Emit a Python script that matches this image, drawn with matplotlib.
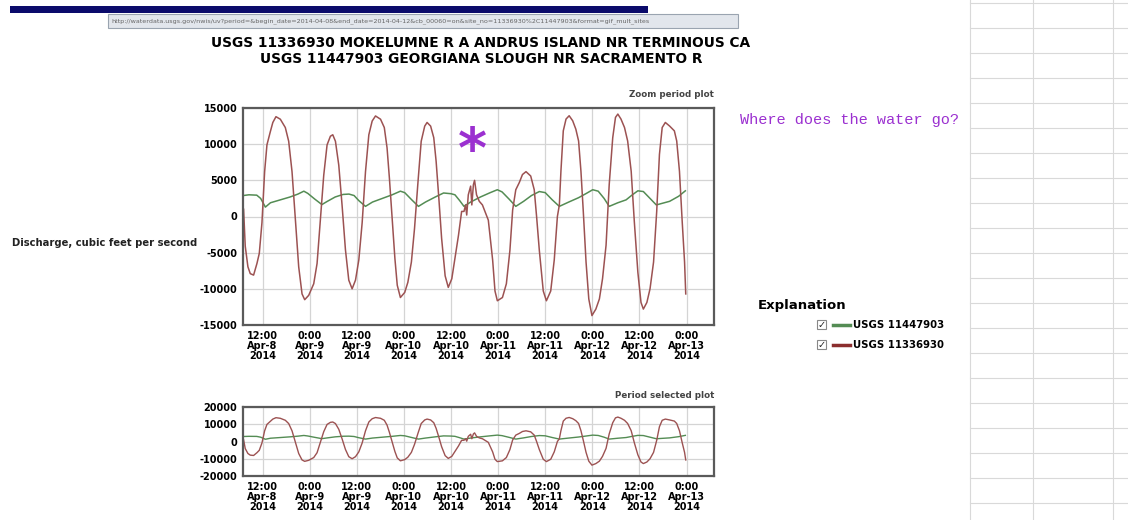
import matplotlib
matplotlib.use("Agg")
import matplotlib.pyplot as plt
from matplotlib.patches import Rectangle
from matplotlib.lines import Line2D

# ---------------- data (hours after 2014-04-08 00:00, discharge cfs) ----------------
red_hours = [7.15, 7.57, 8.25, 8.85, 9.70, 10.55, 11.15, 11.83, 12.51, 13.10, 13.95, 14.6,
             15.40, 16.51, 17.78, 18.64, 19.49, 20.34, 21.19, 22.04, 22.72, 23.74, 25.02,
             25.87, 26.72, 27.57, 28.42, 29.27, 29.87, 30.55, 31.40, 32.25, 33.10, 33.95,
             34.80, 35.66, 36.51, 37.36, 38.21, 39.06, 39.91, 40.76, 42.04, 43.0, 43.7, 44.3,
             45.0, 45.7, 46.3, 47.1, 48.2, 49.0, 49.9, 50.7, 51.6, 52.4, 53.3, 53.9, 54.8,
             55.6, 56.2, 56.9, 57.6, 58.5, 59.3, 60.2, 61.0, 61.9, 62.7, 63.3, 63.7, 64.0,
             64.4, 65.0, 65.3, 65.7, 66.0, 66.5, 67.2, 68.0, 69.0, 69.5, 69.9, 70.6, 71.2,
             71.8, 73.1, 74.1, 75.0, 75.7, 76.5, 77.4, 78.2, 79.1, 80.3, 81.2, 81.8, 82.5,
             83.5, 84.3, 85.4, 86.3, 87.1, 87.6, 88.0, 88.6, 89.3, 90.1, 91.0, 91.8, 92.5,
             93.1, 93.7, 94.4, 95.1, 95.9, 96.9, 97.8, 98.6, 99.5, 100.3, 101.2, 101.9, 102.5,
             103.3, 104.2, 105.0, 105.9, 106.7, 107.6, 108.4, 109.0, 109.9, 110.7, 111.6,
             112.4, 113.1, 113.8, 114.6, 115.7, 116.9, 117.5, 118.2, 118.9, 119.5, 119.8]
red_cfs = [1000, -4100, -6950, -7900, -8100, -6500, -5100, -850, 6200, 9900, 11700, 13000,
           13800, 13450, 12300, 10400, 6200, -400, -6950, -10700, -11500, -10900, -9300,
           -6500, -400, 5700, 9900, 11100, 11300, 10400, 7100, 1500, -4600, -8800, -10000,
           -8800, -6000, -850, 6200, 11300, 13200, 13900, 13450, 12300, 9500, 5300, -250,
           -5800, -9500, -11200, -10500, -9100, -6300, -1650, 4900, 10400, 12500, 13000, 12500,
           10900, 7650, 2500, -3000, -8200, -9800, -8600, -5800, -2600, 700, 700, 1600, 200,
           3000, 4200, 1600, 4400, 5000, 3000, 2100, 1600, 200, -500, -2500, -6000, -10300,
           -11650, -11200, -9300, -4700, 900, 3700, 4700, 5800, 6200, 5600, 3700, 0, -4700,
           -10300, -11650, -10300, -6000, 0, 1600, 6260, 11840, 13470, 13930, 13230, 12070,
           10440, 6260, 680, -6300, -11400, -13700, -12800, -11400, -8600, -3970, 4400, 10900,
           13700, 14160, 13470, 12300, 10440, 6260, -720, -7700, -11880, -12800, -11880,
           -10000, -6300, 680, 8580, 12300, 13000, 12500, 11840, 10440, 6260, -720, -6300,
           -10700]

green_hours = [7.1, 8.5, 10.5, 11.5, 12.7, 14.0, 16.5, 19.0, 21.0, 22.5, 23.5, 25.3, 27.1,
               28.5, 30.5, 32.5, 34.0, 35.3, 36.5, 38.2, 40.0, 42.5, 45.0, 47.1, 48.2, 50.0,
               51.7, 53.5, 56.0, 58.1, 60.0, 61.0, 62.2, 63.3, 65.0, 67.5, 70.0, 71.8, 73.0,
               74.8, 76.5, 78.5, 80.5, 82.5, 84.0, 85.8, 87.6, 90.0, 92.5, 94.5, 96.1, 97.5,
               99.0, 100.3, 102.5, 104.6, 106.2, 107.6, 109.0, 110.7, 112.3, 114.0, 115.7,
               118.0, 119.7]
green_cfs = [2900, 3000, 2950, 2500, 1300, 1900, 2300, 2700, 3100, 3500, 3200, 2400, 1650,
             2100, 2700, 3050, 3100, 2900, 2200, 1400, 2000, 2500, 3000, 3500, 3300, 2300,
             1400, 2000, 2700, 3250, 3150, 3000, 2200, 1400, 2000, 2700, 3300, 3700, 3400,
             2400, 1400, 2100, 2900, 3450, 3300, 2300, 1400, 2000, 2600, 3200, 3700, 3500,
             2500, 1400, 1900, 2300, 3000, 3550, 3450, 2500, 1600, 1850, 2100, 2800, 3550]

tick_hours = [12, 24, 36, 48, 60, 72, 84, 96, 108, 120]
tick_labels = ["12:00\nApr-8\n2014", "0:00\nApr-9\n2014", "12:00\nApr-9\n2014",
               "0:00\nApr-10\n2014", "12:00\nApr-10\n2014", "0:00\nApr-11\n2014",
               "12:00\nApr-11\n2014", "0:00\nApr-12\n2014", "12:00\nApr-12\n2014",
               "0:00\nApr-13\n2014"]
main_yticks = [-15000, -10000, -5000, 0, 5000, 10000, 15000]
sel_yticks = [-20000, -10000, 0, 10000, 20000]

title_lines = ["USGS 11336930 MOKELUMNE R A ANDRUS ISLAND NR TERMINOUS CA",
               "USGS 11447903 GEORGIANA SLOUGH NR SACRAMENTO R"]
green_name = "USGS 11447903"
red_name = "USGS 11336930"
url_text = ("http://waterdata.usgs.gov/nwis/uv?period=&begin_date=2014-04-08&end_date=2014-04-12"
            "&cb_00060=on&site_no=11336930%2C11447903&format=gif_mult_sites")

# ---------------- styling ----------------
W, H = 1128, 520
RED = "#9c5252"
GREEN = "#548c54"
FRAME = "#5a5a5a"
GRID = "#d4d4d4"
PURPLE = "#9b30d0"

plt.rcParams['font.family'] = ['DejaVu Sans']
fig = plt.figure(figsize=(W / 100, H / 100), dpi=100)
fig.patch.set_facecolor("white")


def fx(x):
    return x / W


def fy(y):
    return 1 - y / H


def rect_px(x0, y0, x1, y1, **kw):
    fig.add_artist(Rectangle((fx(x0), fy(y1)), fx(x1) - fx(x0), fy(y0) - fy(y1),
                             transform=fig.transFigure, **kw))


def line_px(xs, ys, **kw):
    fig.add_artist(Line2D([fx(v) for v in xs], [fy(v) for v in ys],
                          transform=fig.transFigure, **kw))


# spreadsheet grid on the right
for yy in range(3, 520, 25):
    line_px([970, 1128], [yy, yy], color="#d9d9d9", lw=0.8, zorder=-3)
for xx in [970, 1033, 1113]:
    line_px([xx, xx], [0, 520], color="#d9d9d9", lw=0.8, zorder=-3)

# navy bar and URL bar
rect_px(10, 6, 648, 13, facecolor="#0b0b6b", edgecolor="none")
rect_px(108, 14, 738, 28, facecolor="#e2e6ec", edgecolor="#9aa4b0", lw=0.8)
fig.text(fx(111), fy(21), url_text, fontsize=4.6, color="#666666", va="center", ha="left")

# titles
fig.text(fx(481), fy(43), title_lines[0], fontsize=9.9, fontweight="bold", ha="center", va="center")
fig.text(fx(481), fy(59), title_lines[1], fontsize=9.9, fontweight="bold", ha="center", va="center")


def style_axes(ax, yticks, ylim):
    ax.set_xlim(7.0, 127.0)
    ax.set_ylim(*ylim)
    ax.set_xticks(tick_hours)
    ax.set_xticklabels(tick_labels, fontsize=7, fontweight="bold", linespacing=1.05)
    ax.set_yticks(yticks)
    ax.set_yticklabels([str(v) for v in yticks], fontsize=7, fontweight="bold")
    ax.tick_params(length=0, pad=4)
    ax.grid(True, color=GRID, lw=0.9)
    ax.set_axisbelow(True)
    for s in ax.spines.values():
        s.set_color(FRAME)
        s.set_linewidth(1.6)


# main zoom plot
ax = fig.add_axes([fx(243), fy(325), fx(714) - fx(243), fy(108) - fy(325)])
ax.plot(green_hours, green_cfs, color=GREEN, lw=1.1, solid_joinstyle="round")
ax.plot(red_hours, red_cfs, color=RED, lw=1.1, solid_joinstyle="round")
style_axes(ax, main_yticks, (-15000, 15000))
ax.text(1.0, 1.04, "Zoom period plot", transform=ax.transAxes, ha="right", va="bottom",
        fontsize=6.3, fontweight="bold", color="#444444")
ax.text(65.4, 8900, "*", fontsize=40, color=PURPLE, ha="center", va="center", fontweight="bold")

# period selected plot
ax2 = fig.add_axes([fx(243), fy(476), fx(714) - fx(243), fy(407) - fy(476)])
ax2.plot(green_hours, green_cfs, color=GREEN, lw=1.0, solid_joinstyle="round")
ax2.plot(red_hours, red_cfs, color=RED, lw=1.0, solid_joinstyle="round")
style_axes(ax2, sel_yticks, (-20000, 20000))
ax2.text(1.0, 1.1, "Period selected plot", transform=ax2.transAxes, ha="right", va="bottom",
         fontsize=6.3, fontweight="bold", color="#444444")

# y label
fig.text(fx(12), fy(243), "Discharge, cubic feet per second", fontsize=7.2, fontweight="bold",
         ha="left", va="center", color="#222222")

# annotation
fig.text(fx(740), fy(120), "Where does the water go?", fontsize=11, color=PURPLE,
         family=["Liberation Mono", "DejaVu Sans Mono"], ha="left", va="center")

# explanation legend
fig.text(fx(758), fy(306), "Explanation", fontsize=9.5, fontweight="bold", ha="left", va="center")
for yy, col, name in [(325, GREEN, green_name), (345, "#8b2e2e", red_name)]:
    rect_px(817, yy - 5, 826, yy + 4, facecolor="white", edgecolor="#888888", lw=0.8)
    fig.text(fx(821.5), fy(yy), "\u2713", fontsize=7, ha="center", va="center", color="#222222")
    line_px([833, 850], [yy, yy], color=col, lw=2.5)
    fig.text(fx(853), fy(yy), name, fontsize=7.3, fontweight="bold", ha="left", va="center")

fig.savefig("out.png", dpi=100)
